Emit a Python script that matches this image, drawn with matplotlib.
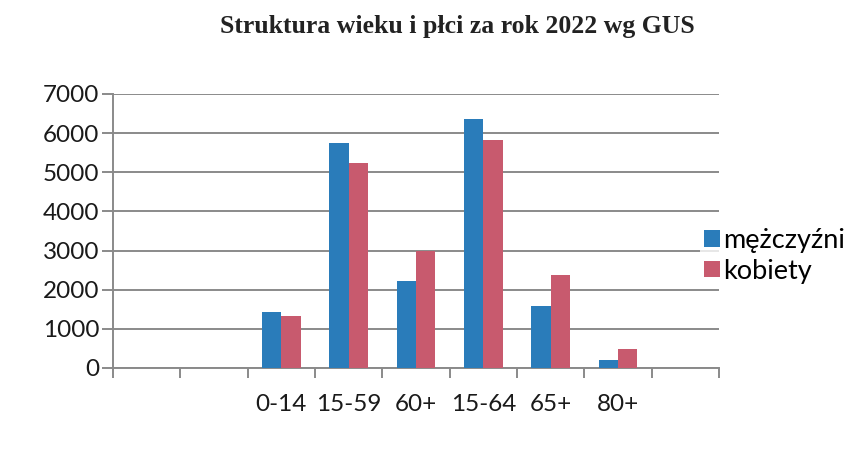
import matplotlib
matplotlib.use('Agg')
import matplotlib.pyplot as plt
import numpy as np

categories = ['', '', '0-14', '15-59', '60+', '15-64', '65+', '80+', '']
men = [np.nan, np.nan, 1420, 5760, 2220, 6360, 1590, 200, np.nan]
women = [np.nan, np.nan, 1330, 5240, 2990, 5830, 2380, 480, np.nan]
yticks = [0, 1000, 2000, 3000, 4000, 5000, 6000, 7000]

blue = '#2a7cba'
pink = '#c85a6e'
grid_c = '#8a8a8a'

plt.rcParams['font.family'] = ['Lato', 'DejaVu Sans']

fig = plt.figure(figsize=(8.61, 4.57), dpi=100)
ax = fig.add_axes([113/861, (457-368)/457, (719-113)/861, (368-94)/457])

x = np.arange(len(categories))
w = 1/3.5
ax.bar(x - w/2, men, w, color=blue, label='mężczyźni', zorder=3)
ax.bar(x + w/2, women, w, color=pink, label='kobiety', zorder=3)

ax.set_xlim(-0.5, len(categories) - 0.5)
ax.set_ylim(0, 7000)
ax.set_yticks(yticks)
ax.set_yticklabels([str(v) for v in yticks], fontsize=17.5, color='#1a1a1a')
ax.yaxis.grid(True, color=grid_c, linewidth=1.4, zorder=0)
ax.tick_params(axis='y', length=8, width=1.4, color=grid_c, pad=2)

ax.set_xticks(x)
ax.set_xticklabels(categories, fontsize=17.5, color='#1a1a1a')
ax.set_xticks(np.arange(len(categories) + 1) - 0.5, minor=True)
ax.tick_params(axis='x', which='major', length=0, pad=19)
ax.tick_params(axis='x', which='minor', length=7, width=1.4, color=grid_c)

for s in ['top', 'right']:
    ax.spines[s].set_visible(False)
for s in ['left', 'bottom']:
    ax.spines[s].set_color(grid_c)
    ax.spines[s].set_linewidth(1.4)

fig.text(457/861, 1 - 27/457, 'Struktura wieku i płci za rok 2022 wg GUS',
         family='Liberation Serif', fontweight='bold', fontsize=18.5,
         ha='center', va='center', color='#222222')

leg = ax.legend(loc='center left', bbox_to_anchor=((700-113)/606, 0.409),
                frameon=True, fontsize=19.5, handlelength=0.57, handleheight=0.57,
                handletextpad=0.15, labelspacing=0.2, borderpad=0.15,
                borderaxespad=0, fancybox=False)
leg.get_frame().set_facecolor('white')
leg.get_frame().set_edgecolor('none')
leg.set_zorder(5)

fig.savefig('out.png', dpi=100, facecolor='white')
